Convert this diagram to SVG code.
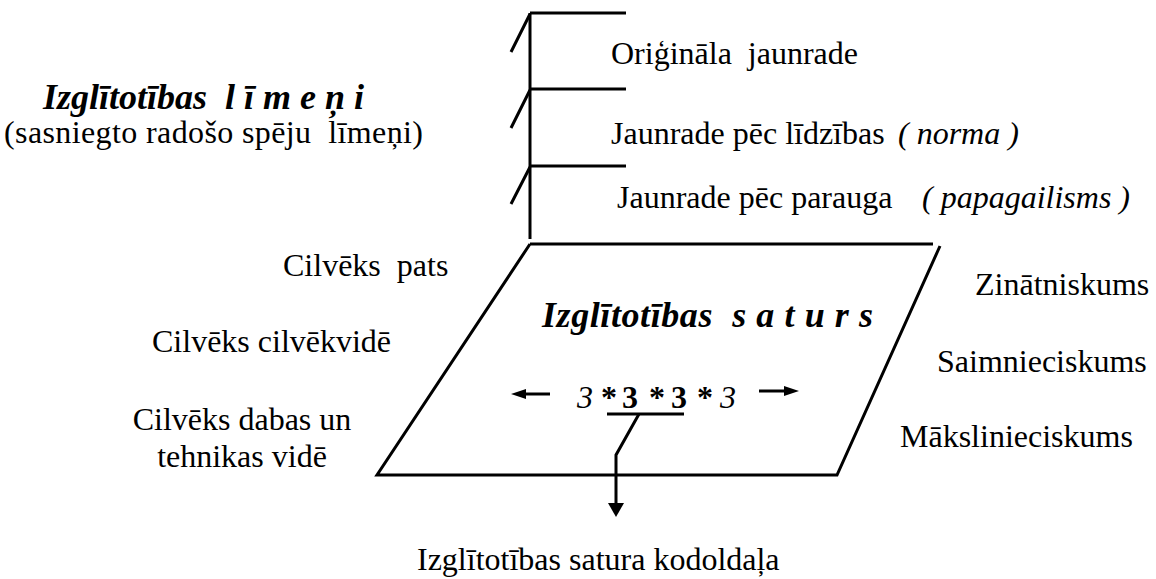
<svg xmlns="http://www.w3.org/2000/svg" width="1156" height="579" viewBox="0 0 1156 579">
<style>
.t{font-size:32px;fill:#000}
.bi{font-size:36px;font-weight:bold;font-style:italic;fill:#000}
.i{font-style:italic}
.ln{stroke:#000;stroke-width:3;fill:none}
</style>
<defs>
<clipPath id="clipM"><rect x="880" y="400" width="276" height="48"/></clipPath>
</defs>
<rect width="1156" height="579" fill="#fff"/>
<g id="connectors">
<path class="ln" d="M530,13 V239"/>
<path class="ln" d="M530,13 H626 M530,89 H626 M530,166 H626"/>
<path class="ln" d="M511,52 L530,14 M511,128 L530,90 M511,204 L530,167"/>
<path class="ln" d="M607,414 H684"/>
<path class="ln" d="M639,414 L616,455 V505"/>
<polygon points="608,503 624,503 616,517" fill="#000"/>
<path class="ln" d="M550,394 H522"/>
<polygon points="511,394 526,389 526,399" fill="#000"/>
<path class="ln" d="M759,391 H788"/>
<polygon points="799,391 784,386 784,396" fill="#000"/>
</g>
<g font-family="Liberation Serif, serif">
<g id="levels">
<text id="level-title" class="bi" x="43" y="109" xml:space="preserve" font-size="35">Izglītotības  l ī m e ņ i</text>
<text id="level-sub" class="t" x="4" y="143" xml:space="preserve" textLength="419">(sasniegto radošo spēju  līmeņi)</text>
</g>
<g id="level1"><text class="t" x="611" y="64" xml:space="preserve">Oriģināla  jaunrade</text></g>
<g id="level2"><text class="t" x="611" y="144">Jaunrade pēc līdzības<tspan class="i" x="898" xml:space="preserve">( norma )</tspan></text></g>
<g id="level3"><text class="t" x="617" y="208">Jaunrade pēc parauga<tspan class="i" x="922" xml:space="preserve">( papagailisms )</tspan></text></g>
<g id="content">
<path class="ln" d="M530,244 H933 M940,246 L837,475 H377 L530,244"/>
<text class="bi" x="542" y="327" xml:space="preserve" textLength="331">Izglītotības  s a t u r s</text>
<text class="t" font-size="30"><tspan class="i" x="577" y="408">3</tspan><tspan font-weight="bold" x="601">*</tspan><tspan font-weight="bold" x="622">3</tspan><tspan font-weight="bold" x="649">*</tspan><tspan font-weight="bold" x="671">3</tspan><tspan font-weight="bold" x="697">*</tspan><tspan class="i" x="720">3</tspan></text>
</g>
<g id="left-labels">
<text class="t" x="283" y="276" xml:space="preserve">Cilvēks  pats</text>
<text class="t" x="152" y="352">Cilvēks cilvēkvidē</text>
<text class="t" x="242" y="430" text-anchor="middle">Cilvēks dabas un</text>
<text class="t" x="242" y="467" text-anchor="middle">tehnikas vidē</text>
</g>
<g id="right-labels">
<text class="t" x="975" y="295">Zinātniskums</text>
<text class="t" x="937" y="372">Saimnieciskums</text>
<text class="t" x="900" y="447" clip-path="url(#clipM)">Mākslinieciskums</text>
</g>
<g id="core"><text class="t" x="417" y="570">Izglītotības satura kodoldaļa</text></g>
</g>
</svg>
